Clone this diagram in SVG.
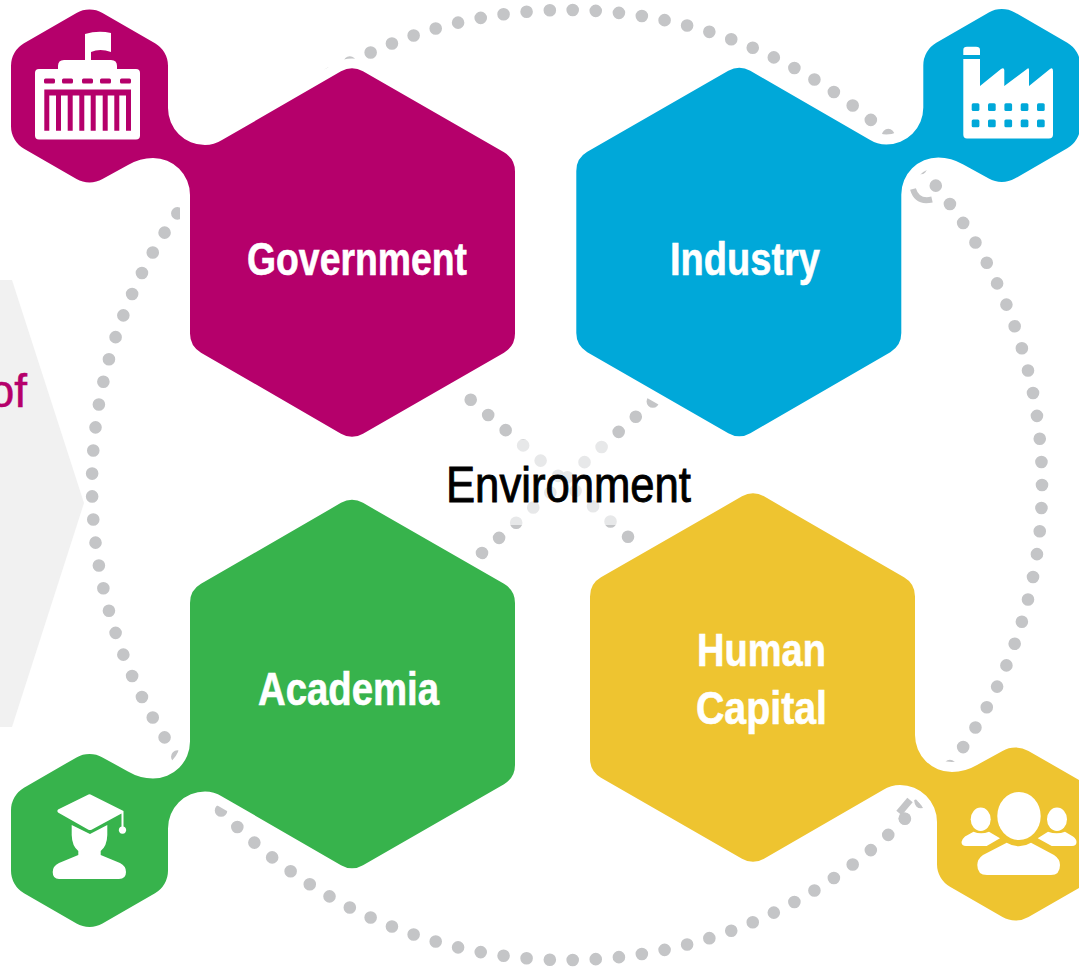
<svg xmlns="http://www.w3.org/2000/svg" width="1079" height="967" viewBox="0 0 1079 967">
<style>
.dots{fill:none;stroke:#c4c5c7;stroke-width:12.6;stroke-linecap:round}
.frag{fill:none;stroke:#c4c5c7}
.hex{stroke:#fff;stroke-width:20;paint-order:stroke;stroke-linejoin:round}
.lab{font-family:"Liberation Sans Narrow","Liberation Sans",Arial,sans-serif;font-weight:700;font-size:46px;fill:#fff;stroke:#fff;stroke-width:.6}
.ic{fill:#fff}
</style>
<defs>
<path id="shape" d="M76.500 12.900A26 26 0 0 1 102.500 12.900L155 43.200A26 26 0 0 1 168 65.700L168 108A37 37 0 0 0 205 145Q214 145 222 140L341 71.350A22 22 0 0 1 363 71.350L504 152.350A22 22 0 0 1 515 171.400L515 333.600A22 22 0 0 1 504 352.650L363 433.650A22 22 0 0 1 341 433.650L201 352.650A22 22 0 0 1 190 333.600L190 195A37 37 0 0 0 153 158Q140 158 128 165L102.500 179.100A26 26 0 0 1 76.500 179.100L24 148.800A26 26 0 0 1 11 126.300L11 65.700A26 26 0 0 1 24 43.200Z"/>
</defs>
<rect width="1079" height="967" fill="#fff"/>
<g id="arrow-panel">
<polygon points="0,280 12,280 84,503 12,727 0,727" fill="#f1f1f1"/>
<text x="27" y="407" text-anchor="end" font-family="'Liberation Sans Narrow','Liberation Sans',Arial,sans-serif" font-size="46" fill="#b5006b" stroke="#b5006b" stroke-width=".5">of</text>
</g>
<g id="connectors">
<circle class="dots" cx="567" cy="485" r="475" pathLength="129" stroke-dasharray="0 1"/>
<line class="dots" x1="470.7" y1="399.700" x2="629" y2="537.600" stroke-dasharray="0 23.18"/>
<line class="dots" x1="482" y1="553" x2="653.500" y2="401" stroke-dasharray="0 22.83"/>
<rect x="420" y="439.500" width="290" height="85.500" fill="#fff" fill-opacity="0.6"/>
</g>
<g id="government">
<use href="#shape" class="hex" fill="#b5006b"/>
<path class="ic" d="M35 73Q35 69 39 69H58V66Q58 60 64 60H85V34Q98 30 111 33V52Q100 48 91 52V60H111Q117 60 117 66V69H136Q140 69 140 73V135.500Q140 139.500 136 139.500H39Q35 139.500 35 135.500Z"/>
<g fill="#b5006b"><rect x="44" y="78.500" width="11" height="5" rx="1.500"/><rect x="62" y="78.500" width="11" height="5" rx="1.500"/><rect x="82" y="78.500" width="11" height="5" rx="1.500"/><rect x="100" y="78.500" width="11" height="5" rx="1.500"/><rect x="120" y="78.500" width="11" height="5" rx="1.500"/>
<path d="M44.300 89.500H131V130.700H126V95.500H119.300V130.700H114.300V95.500H107.700V130.700H102.700V95.500H95.700V130.700H90.700V95.500H84.300V130.700H79.300V95.500H72.700V130.700H67.700V95.500H61V130.700H56V95.500H49.300V130.700H44.300Z"/></g>
<text class="lab" x="247" y="275" textLength="220" lengthAdjust="spacingAndGlyphs">Government</text>
</g>
<g id="industry">
<use href="#shape" class="hex" fill="#00a8d9" transform="matrix(-1 0 0 1 1091.300 -0.500)"/>
<path class="ic" d="M963.300 55V50Q963.300 46.700 967 46.700H976Q980 46.700 980 50V55Z"/>
<path class="ic" d="M963.300 59H980V86L1001 69Q1004 67 1004.300 70V86L1027 69Q1029 67 1029 70V86L1050 69Q1053 67 1053 71V134.500Q1053 138.500 1049 138.500H967Q963.300 138.500 963.300 134.500Z"/>
<g fill="#00a8d9"><rect x="971.700" y="103.300" width="7.700" height="7.700" rx="1.500"/><rect x="988" y="103.300" width="7.700" height="7.700" rx="1.500"/><rect x="1004.400" y="103.300" width="7.700" height="7.700" rx="1.500"/><rect x="1020.700" y="103.300" width="7.700" height="7.700" rx="1.500"/><rect x="1037" y="103.300" width="7.700" height="7.700" rx="1.500"/><rect x="971.700" y="119.500" width="7.700" height="7.700" rx="1.500"/><rect x="988" y="119.500" width="7.700" height="7.700" rx="1.500"/><rect x="1004.400" y="119.500" width="7.700" height="7.700" rx="1.500"/><rect x="1020.700" y="119.500" width="7.700" height="7.700" rx="1.500"/><rect x="1037" y="119.500" width="7.700" height="7.700" rx="1.500"/></g>
<text class="lab" x="670" y="275" textLength="150" lengthAdjust="spacingAndGlyphs">Industry</text>
</g>
<g id="academia">
<use href="#shape" class="hex" fill="#37b34c" transform="matrix(1 0 0 -1 0 936.500)"/>
<path class="ic" d="M87.500 795Q89.500 793.500 91.500 795L123.500 811V826.500A3.700 3.700 0 1 1 121.500 826.500V813.500L92 829.500Q90 830.700 88 829.500L58 812.500Q56.500 811 58 809.500Z"/>
<path class="ic" d="M71.700 825L90 834L107.300 825V835Q107 846 100.700 851V855L120 863Q126 866 126 872Q126 879 119 879H59Q52.700 879 52.700 872Q52.700 866 59 863L78.300 855V851Q72 846 71.700 835Z"/>
<text class="lab" x="258" y="705" textLength="181" lengthAdjust="spacingAndGlyphs">Academia</text>
</g>
<g id="human-capital">
<use href="#shape" class="hex" fill="#eec430" transform="matrix(-1 0 0 -1 1105 930)"/>
<ellipse class="ic" cx="1019" cy="816" rx="21.700" ry="24"/>
<path class="ic" d="M1006.700 842.700Q1019 850 1031 842.700L1054 855Q1060 859 1060 865Q1060 875 1051 875H987Q977.300 875 977.300 865Q977.300 859 983 855Z"/>
<ellipse class="ic" cx="980.700" cy="819.300" rx="10" ry="11.700"/>
<ellipse class="ic" cx="1057" cy="819.300" rx="10" ry="11.700"/>
<path class="ic" d="M973.500 831.700Q981 835 989 831.700L1000 838.300L986.700 846H966Q961.500 846 961.500 842Q962 839 965 836.500Z"/>
<path class="ic" d="M1048 831.700Q1057 835 1065 831.700L1073 836.500Q1076.500 839 1076.500 842Q1076.500 846 1072 846H1051.700L1037.700 838.300Z"/>
<text class="lab" x="697" y="666" textLength="129" lengthAdjust="spacingAndGlyphs">Human</text>
<text class="lab" x="696" y="724" textLength="131" lengthAdjust="spacingAndGlyphs">Capital</text>
</g>
<g id="connector-fragments">
<path class="frag" d="M913 189Q917 203 932 199.500" stroke-width="6"/>
<path class="frag" d="M910 800L899 813" stroke-width="7"/>
<circle cx="904.500" cy="818.500" r="6" fill="#c4c5c7"/>
<path class="frag" d="M915 800L921 807" stroke-width="2.500"/>
</g>
<g id="environment">
<text x="446" y="502" textLength="245" lengthAdjust="spacingAndGlyphs" font-family="'Liberation Sans Narrow','Liberation Sans',Arial,sans-serif" font-size="50" fill="#000" stroke="#000" stroke-width=".9">Environment</text>
</g>
</svg>
